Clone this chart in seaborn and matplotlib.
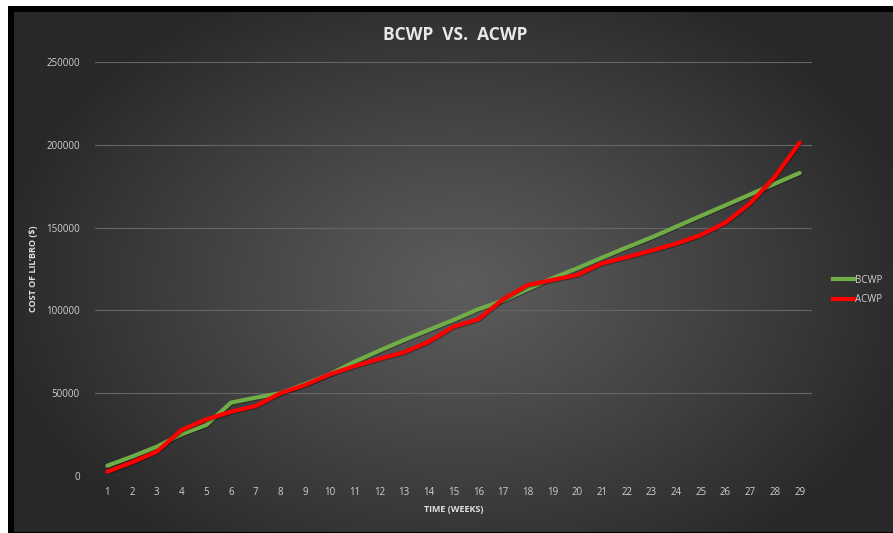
import numpy as np
import pandas as pd
import matplotlib
matplotlib.use("Agg")
import matplotlib.pyplot as plt
import matplotlib.patheffects as pe
from matplotlib.lines import Line2D
import seaborn as sns

# data
weeks = list(range(1, 30))
bcwp = [6200, 11700, 17700, 25200, 30800, 44300, 47300, 50000, 55500, 61400,
        69000, 75700, 82100, 88200, 94200, 100700, 105900, 112800, 119400, 125400,
        131800, 138000, 144000, 150500, 157000, 163500, 170000, 176500, 183000]
acwp = [2600, 8300, 14700, 27800, 34200, 38800, 42300, 50000, 55000, 61400,
        66400, 70700, 74700, 81100, 90200, 94600, 106700, 115300, 118400, 121400,
        128400, 132100, 136100, 140300, 145500, 153000, 164700, 180700, 201300]
y_ticks = [0, 50000, 100000, 150000, 200000, 250000]

df = pd.DataFrame({
    "week": weeks * 2,
    "cost": bcwp + acwp,
    "series": ["BCWP"] * len(weeks) + ["ACWP"] * len(weeks),
})

W, H = 893, 533
fig = plt.figure(figsize=(W / 100, H / 100), dpi=100)
fig.patch.set_facecolor("white")

# background: white margin, black frame, radial grey gradient
yy, xx = np.mgrid[0:H, 0:W]
r = np.sqrt(((xx - 460) / 470.0) ** 2 + ((yy - 285) / 330.0) ** 2)
r = np.clip(r, 0, 1) ** 1.1
center = np.array([0x5c, 0x5c, 0x5c]) / 255
edge = np.array([0x28, 0x28, 0x28]) / 255
img = center[None, None, :] + (edge - center)[None, None, :] * r[..., None]
img[(xx < 14) | (yy < 12) | (yy > 531)] = 0.0
img[(xx < 8) | (yy < 6)] = 1.0

bg = fig.add_axes([0, 0, 1, 1], zorder=-10)
bg.imshow(img, aspect="auto", interpolation="bilinear")
bg.axis("off")

plt.rcParams["font.family"] = ["Open Sans", "DejaVu Sans"]
tick_color = "#d0d0d0"

ax = fig.add_axes([95 / W, (H - 476) / H, (812 - 95) / W, (476 - 62) / H])
ax.set_facecolor("none")

sns.lineplot(data=df, x="week", y="cost", hue="series",
             palette={"BCWP": "#70ad47", "ACWP": "#ff0000"},
             linewidth=3.0, ax=ax, legend=False)
for line in ax.lines:
    line.set_solid_joinstyle("round")
    line.set_solid_capstyle("round")
    line.set_path_effects([pe.SimpleLineShadow(offset=(0.6, -0.6), alpha=0.35, shadow_color="black"),
                           pe.Normal()])

ax.set_xlim(0.5, 29.5)
ax.set_ylim(0, 250000)
ax.set_xticks(weeks)
ax.set_xticklabels([str(w) for w in weeks])
ax.set_yticks(y_ticks)
ax.set_yticklabels([str(v) for v in y_ticks])
ax.tick_params(axis="both", length=0, colors=tick_color, labelsize=7)
ax.tick_params(axis="x", pad=8)
ax.tick_params(axis="y", pad=11)
ax.grid(axis="y", color="#666666", linewidth=0.8)
ax.grid(axis="x", visible=False)
ax.set_axisbelow(True)
for s in ax.spines.values():
    s.set_visible(False)

ax.set_xlabel("TIME (WEEKS)", color="#e0e0e0", fontsize=6.5, fontweight="bold", labelpad=5)
ax.set_ylabel("COST OF LIL'BRO ($)", color="#e0e0e0", fontsize=6.5, fontweight="bold", labelpad=6)

fig.text(455 / W, 1 - 35 / H, "BCWP  VS.  ACWP",
         ha="center", va="center", color="#e8e8e8", fontsize=12.5, fontweight="bold")

handles = [Line2D([], [], color="#70ad47", linewidth=3.0),
           Line2D([], [], color="#ff0000", linewidth=3.0)]
fig.legend(handles, ["BCWP", "ACWP"], loc="center left",
           bbox_to_anchor=(824 / W, 1 - 290 / H), frameon=False,
           fontsize=7, labelcolor=tick_color, handlelength=2.2,
           handletextpad=0.1, labelspacing=0.9)

fig.savefig("out.png", dpi=100)
